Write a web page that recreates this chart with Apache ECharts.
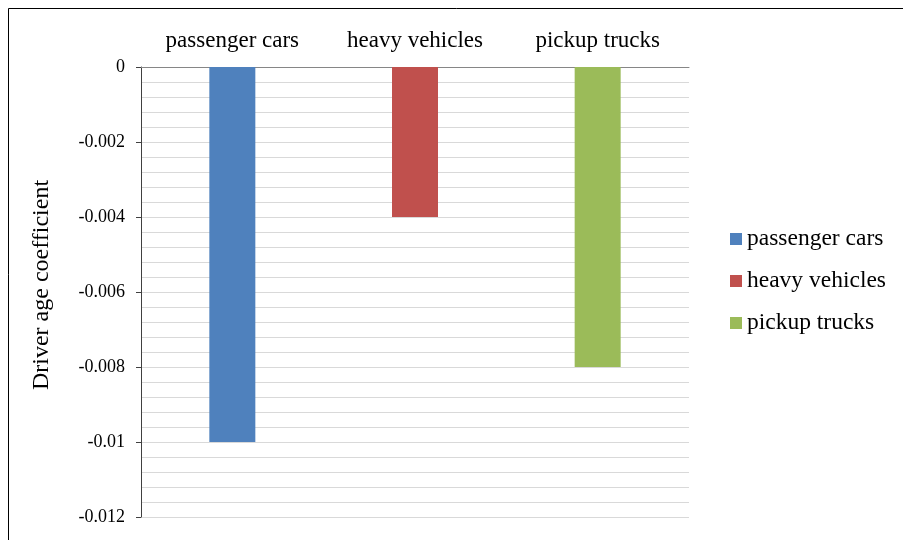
<!DOCTYPE html>
<html><head><meta charset="utf-8">
<script src="https://cdn.jsdelivr.net/npm/echarts@6/dist/echarts.min.js"></script>
<style>html,body{margin:0;padding:0;background:#fff}#c{width:903px;height:540px}</style>
</head><body><div id="c"></div>
<script>
const categories = ['passenger cars', 'heavy vehicles', 'pickup trucks'];
const seriesNames = ['passenger cars', 'heavy vehicles', 'pickup trucks'];
const values = [-0.010, -0.004, -0.008];
const colors = ['#4f81bd', '#c0504d', '#9bbb59'];
const yTicks = { min: -0.012, max: 0, interval: 0.002 };

const chart = echarts.init(document.getElementById('c'));
const font = '"Liberation Serif", "Times New Roman", serif';
const series = seriesNames.map((name, i) => ({
  name: name,
  type: 'bar',
  stack: 'all',
  barWidth: 46,
  itemStyle: { color: colors[i] },
  data: categories.map((c, j) => (j === i ? values[i] : null))
}));
chart.setOption({
  animation: false,
  textStyle: { fontFamily: font },
  graphic: [{ type: 'rect', shape: { x: 8.5, y: 8.5, width: 900, height: 540 }, style: { fill: 'none', stroke: '#000', lineWidth: 1 }, z: -1 }],
  grid: { left: 141, top: 67, right: 214, bottom: 23 },
  legend: {
    orient: 'vertical', left: 725, top: 222, itemWidth: 12, itemHeight: 12, itemGap: 18,
    icon: 'rect',
    textStyle: { fontFamily: font, fontSize: 23.5, color: '#000' },
    data: seriesNames
  },
  xAxis: {
    type: 'category', position: 'top', data: categories,
    axisLine: { lineStyle: { color: '#868686', width: 1 } },
    axisTick: { show: false },
    axisLabel: { fontFamily: font, fontSize: 23, color: '#000', margin: 15 }
  },
  yAxis: {
    type: 'value', min: yTicks.min, max: yTicks.max, interval: yTicks.interval,
    name: 'Driver age coefficient', nameLocation: 'middle', nameGap: 87, nameRotate: 90,
    nameTextStyle: { fontFamily: font, fontSize: 24, color: '#000', padding: [0, 0, 0, 14] },
    axisLine: { show: true, lineStyle: { color: '#404040', width: 1 } },
    axisTick: { show: true, length: 5, lineStyle: { color: '#404040' } },
    axisLabel: { fontFamily: font, fontSize: 18, color: '#000', margin: 16,
      formatter: v => (v === 0 ? '0' : String(parseFloat(v.toFixed(4)))) },
    splitLine: { show: true, lineStyle: { color: '#d9d9d9', width: 1 } },
    minorTick: { show: false, splitNumber: 5 },
    minorSplitLine: { show: true, lineStyle: { color: '#d9d9d9', width: 1 } }
  },
  series: series
});
</script></body></html>
